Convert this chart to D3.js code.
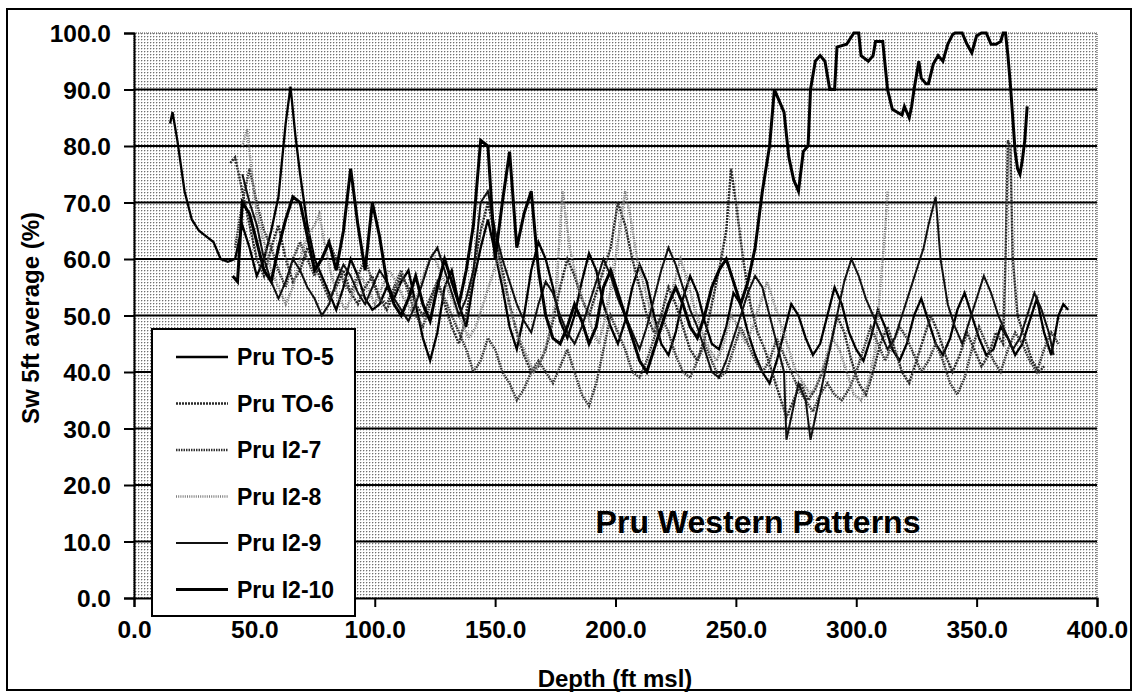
<!DOCTYPE html>
<html><head><meta charset="utf-8">
<script src="https://cdn.jsdelivr.net/npm/d3@7"></script>
<style>html,body{margin:0;padding:0;background:#fff;}svg{display:block;}</style>
</head><body>
<svg id="chart" width="1135" height="696"></svg>
<script>
const xTicks = [0, 50, 100, 150, 200, 250, 300, 350, 400];
const yTicks = [0, 10, 20, 30, 40, 50, 60, 70, 80, 90, 100];
const seriesNames = ["Pru TO-5", "Pru TO-6", "Pru I2-7", "Pru I2-8", "Pru I2-9", "Pru I2-10"];

const to5 = [[15,84],[16,86],[18,81],[21,72],[24,67],[27,65],[30,64],[33,63],[36,60],[39,59.5],[42,60],[45,66],[48,62],[51,57],[54,60],[57,65],[60,71],[63,84],[65,90.5],[67,82],[69,75],[72,66],[75,60],[78,57],[81,54],[84,51],[87,55],[90,60],[93,57],[96,53],[99,51],[102,52],[105,55],[108,53],[111,56],[114,58],[117,52],[120,46],[123,42],[126,47],[129,55],[132,58],[135,52],[138,48],[141,56],[144,62],[147,67],[150,61],[153,55],[156,48],[159,44],[162,50],[165,58],[168,63],[171,60],[174,55],[177,49],[180,46],[183,50],[186,56],[189,61],[192,58],[195,52],[198,48],[201,45],[204,49],[207,55],[210,59],[213,56],[216,50],[219,45],[222,43],[225,47],[228,53],[231,57],[234,54],[237,49],[240,45],[243,44],[246,48],[249,54],[252,52],[255,47],[258,43],[261,40],[264,38],[267,42],[270,47],[273,52],[276,50],[279,46],[282,43],[285,45],[288,50],[291,55],[294,52],[297,47],[300,44],[303,42],[306,46],[309,51],[312,48],[315,44],[318,42],[321,45],[324,50],[327,53],[330,49],[333,45],[336,43],[339,46],[342,51],[345,54],[348,50],[351,46],[354,43],[357,44],[360,48],[363,46],[366,43],[369,45],[372,49],[375,53],[378,47],[381,43],[384,50],[386,52],[388,51]];

const to6 = [[40,77],[42,78],[45,72],[48,66],[51,60],[54,57],[57,62],[60,66],[63,60],[66,56],[69,58],[72,62],[75,59],[78,56],[81,53],[84,55],[87,58],[90,54],[93,52],[96,55],[99,57],[102,53],[105,51],[108,54],[111,57],[114,55],[117,52],[120,50],[123,53],[126,56],[129,52],[132,48],[135,45],[138,50],[141,58],[144,65],[147,70],[150,64],[153,58],[156,52],[159,47],[162,43],[165,40],[168,41],[171,44],[174,49],[177,55],[180,60],[183,57],[186,53],[189,50],[192,54],[195,58],[198,62],[201,70],[204,66],[207,60],[210,55],[213,50],[216,47],[219,50],[222,55],[225,52],[228,48],[231,44],[234,42],[237,46],[240,52],[243,58],[246,65],[248,76],[250,70],[253,60],[256,52],[259,47],[262,44],[265,40],[268,36],[271,32],[274,35],[277,38],[280,35],[283,37],[286,40],[289,44],[292,50],[295,47],[298,42],[301,38],[304,36],[307,40],[310,45],[313,48],[316,44],[319,40],[322,38],[325,42],[328,46],[331,50],[334,47],[337,43],[340,40],[343,43],[346,47],[349,44],[352,41],[355,43],[358,47],[361,45],[362,60],[363,81],[364,80],[365,60],[367,50],[370,46],[373,42],[376,40],[378,41]];

const i27 = [[42,62],[45,70],[48,76],[51,70],[54,65],[57,62],[60,58],[63,55],[66,60],[69,63],[72,60],[75,57],[78,60],[81,63],[84,60],[87,56],[90,54],[93,57],[96,60],[99,56],[102,53],[105,52],[108,55],[111,58],[114,54],[117,50],[120,48],[123,52],[126,56],[129,53],[132,50],[135,47],[138,44],[141,40],[144,42],[147,46],[150,44],[153,40],[156,38],[159,35],[162,37],[165,40],[168,42],[171,40],[174,38],[177,41],[180,44],[183,40],[186,36],[189,34],[192,38],[195,44],[198,50],[201,47],[204,44],[207,40],[210,39],[213,42],[216,46],[219,50],[222,47],[225,43],[228,40],[231,39],[234,42],[237,45],[240,42],[243,39],[246,40],[249,44],[252,48],[255,45],[258,42],[261,40],[264,42],[267,46],[270,43],[273,40],[276,37],[279,35],[282,33],[285,36],[288,38],[291,36],[294,35],[297,37],[300,40],[303,44],[306,48],[309,45],[312,42],[315,45],[318,48],[321,46],[324,43],[327,40],[330,42],[333,45],[336,42],[339,38],[342,36],[345,39],[348,44],[351,48],[354,45],[357,42],[360,40],[363,44],[366,47],[369,45],[372,42],[375,40],[378,44],[381,47],[384,45]];

const i28 = [[45,80],[47,83],[49,75],[51,68],[54,63],[57,58],[60,55],[63,52],[66,55],[69,60],[72,64],[75,66],[77,68],[79,63],[82,57],[85,53],[88,51],[91,54],[94,57],[97,55],[100,52],[103,55],[106,58],[109,56],[112,53],[115,51],[118,54],[121,58],[124,61],[127,58],[130,55],[133,52],[136,49],[139,46],[142,48],[145,52],[148,56],[151,60],[154,55],[157,50],[160,46],[163,43],[166,40],[169,42],[172,46],[175,52],[178,72],[181,62],[184,56],[187,52],[190,48],[193,45],[196,50],[199,57],[202,66],[204,72],[206,68],[209,60],[212,55],[215,50],[218,46],[221,50],[224,55],[227,60],[230,56],[233,51],[236,47],[239,44],[242,42],[245,45],[248,50],[251,48],[254,45],[257,48],[260,52],[263,56],[266,52],[269,48],[272,44],[275,40],[278,38],[281,36],[284,38],[287,42],[290,46],[293,44],[296,40],[299,36],[302,35],[305,38],[308,44],[310,55],[312,65],[313,72]];

const i29 = [[45,75],[48,70],[51,66],[54,60],[57,56],[60,53],[63,56],[66,60],[69,58],[72,55],[75,53],[78,50],[81,52],[84,56],[87,59],[90,57],[93,54],[96,52],[99,55],[102,58],[105,56],[108,53],[111,51],[114,49],[117,52],[120,56],[123,60],[126,62],[129,58],[132,54],[135,50],[138,53],[141,58],[144,70],[147,72],[150,65],[153,60],[156,56],[159,52],[162,49],[165,47],[168,52],[171,56],[174,54],[177,50],[180,47],[183,45],[186,48],[189,52],[192,56],[195,60],[198,57],[201,53],[204,50],[207,47],[210,44],[213,48],[216,53],[219,58],[222,62],[225,59],[228,55],[231,51],[234,48],[237,44],[240,40],[243,39],[246,42],[249,46],[252,50],[255,54],[258,57],[261,55],[264,50],[267,45],[270,40],[271,28],[273,32],[276,38],[279,35],[281,28],[283,32],[286,38],[289,44],[292,50],[295,56],[298,60],[301,57],[304,53],[307,50],[310,47],[313,44],[316,46],[319,50],[322,54],[325,58],[328,62],[330,66],[333,71],[335,60],[338,52],[341,48],[344,45],[347,49],[350,53],[353,57],[356,54],[359,50],[362,47],[365,44],[368,46],[371,50],[374,54],[377,51],[380,47],[382,43]];

const i210 = [[41,57],[43,56],[45,70],[48,68],[51,63],[54,58],[57,56],[60,62],[63,67],[66,71],[69,70],[72,64],[75,58],[78,60],[81,63],[84,58],[87,65],[90,76],[93,66],[96,58],[99,70],[102,64],[105,56],[108,52],[111,50],[114,53],[117,57],[120,52],[123,49],[126,55],[129,60],[132,56],[135,52],[138,58],[141,66],[144,81],[147,80],[150,60],[153,70],[156,79],[159,62],[162,68],[165,72],[168,58],[171,50],[174,46],[177,45],[180,48],[183,52],[186,49],[189,45],[192,48],[195,55],[198,58],[201,54],[204,50],[207,46],[210,42],[213,40],[216,44],[219,48],[222,52],[225,55],[228,52],[231,48],[234,46],[237,50],[240,55],[243,58],[246,60],[249,56],[252,52],[255,56],[258,62],[261,72],[264,80],[266,90],[268,88],[270,86],[272,78],[274,74],[276,72],[278,79],[280,80],[281,90],[283,95],[285,96],[287,95],[289,90],[291,90],[292,97.5],[296,98],[299,100],[301,100],[302,96],[305,95],[307,96],[308,98.5],[311,98.5],[313,90],[315,86.5],[319,85.5],[320,87],[322,85],[323,87],[324,90],[326,95],[327,92],[329,91],[330,91],[332,94.5],[334,96],[336,95],[338,98],[340,99.7],[341,100],[344,100],[346,98],[348,96.5],[350,99.5],[352,100],[354,100],[356,98],[358,98],[360,98.5],[361,100],[362,100],[363,96],[364,91],[365,85],[366,79],[367,76],[368,75],[369,77.5],[370,81],[371,87]];

const seriesData = [to5, to6, i27, i28, i29, i210];
const seriesStroke = ["#000", "#2a2a2a", "#333", "#7d7d7d", "#111", "#000"];
const seriesWidth = [2.3, 2.4, 2.4, 2.4, 2, 3];
const seriesDash = [null, "2,1", "1.5,1", "1,1.2", null, null];

const svg = d3.select("#chart");
const plot = {left: 134, top: 33, right: 1097, bottom: 598};
const FONT = "'Liberation Sans', Arial, sans-serif";

svg.append("rect").attr("x", 7).attr("y", 9).attr("width", 1124).attr("height", 681)
  .attr("fill", "#fff").attr("stroke", "#000").attr("stroke-width", 2);

const defs = svg.append("defs");
const pat = defs.append("pattern").attr("id", "dots").attr("patternUnits", "userSpaceOnUse")
  .attr("width", 3).attr("height", 3);
pat.append("rect").attr("width", 3).attr("height", 3).attr("fill", "#fff");
pat.append("rect").attr("x", 0).attr("y", 0).attr("width", 1).attr("height", 1).attr("fill", "#707070");
pat.append("rect").attr("x", 0).attr("y", 1).attr("width", 1).attr("height", 1).attr("fill", "#cfcfcf");
pat.append("rect").attr("x", 1).attr("y", 0).attr("width", 1).attr("height", 1).attr("fill", "#cfcfcf");
defs.append("clipPath").attr("id", "clip").append("rect")
  .attr("x", 134).attr("y", 31).attr("width", 963).attr("height", 567);

const x = d3.scaleLinear().domain([0, 400]).range([plot.left, plot.right]);
const y = d3.scaleLinear().domain([0, 100]).range([plot.bottom, plot.top]);

svg.append("rect").attr("x", plot.left).attr("y", plot.top)
  .attr("width", plot.right - plot.left).attr("height", plot.bottom - plot.top)
  .attr("fill", "url(#dots)").attr("stroke", "#555").attr("stroke-width", 1.2).attr("stroke-dasharray", "1,1");

svg.append("g").selectAll("line").data(yTicks.filter(d => d > 0 && d < 100)).join("line")
  .attr("x1", plot.left).attr("x2", plot.right)
  .attr("y1", d => y(d)).attr("y2", d => y(d))
  .attr("stroke", "#000").attr("stroke-width", 2);

const line = d3.line().x(d => x(d[0])).y(d => y(d[1]));
const gl = svg.append("g").attr("clip-path", "url(#clip)");
seriesData.forEach((s, i) => {
  gl.append("path").datum(s).attr("d", line).attr("fill", "none")
    .attr("stroke", seriesStroke[i]).attr("stroke-width", seriesWidth[i])
    .attr("stroke-dasharray", seriesDash[i]).attr("stroke-linejoin", "miter");
});

const fmt = d3.format(".1f");
const yAxis = d3.axisLeft(y).tickValues(yTicks).tickFormat(fmt).tickSize(10).tickPadding(13);
const xAxis = d3.axisBottom(x).tickValues(xTicks).tickFormat(fmt).tickSize(9).tickPadding(14);
const gy = svg.append("g").attr("transform", `translate(${plot.left},0)`).call(yAxis);
const gx = svg.append("g").attr("transform", `translate(0,${plot.bottom})`).call(xAxis);
[gx, gy].forEach(g => {
  g.select(".domain").attr("stroke", "#000").attr("stroke-width", 2);
  g.selectAll(".tick line").attr("stroke", "#000").attr("stroke-width", 2);
  g.selectAll(".tick text").attr("fill", "#000")
    .style("font-family", FONT).style("font-weight", "bold").style("font-size", "24.5px");
});
gy.selectAll(".tick text").attr("dy", "0.36em");

svg.append("text").attr("transform", `translate(30,318) rotate(-90)`)
  .attr("text-anchor", "middle").attr("dominant-baseline", "central")
  .style("font-family", FONT).style("font-weight", "bold").style("font-size", "24px")
  .text("Sw 5ft average (%)");
svg.append("text").attr("x", 615).attr("y", 678)
  .attr("text-anchor", "middle").attr("dominant-baseline", "central")
  .style("font-family", FONT).style("font-weight", "bold").style("font-size", "24px")
  .text("Depth (ft msl)");

svg.append("text").attr("x", 758).attr("y", 522)
  .attr("text-anchor", "middle").attr("dominant-baseline", "central")
  .style("font-family", FONT).style("font-weight", "bold").style("font-size", "32px")
  .text("Pru Western Patterns");

const lg = svg.append("g");
lg.append("rect").attr("x", 152).attr("y", 329).attr("width", 203).attr("height", 287)
  .attr("fill", "#fff").attr("stroke", "#000").attr("stroke-width", 2);
seriesNames.forEach((n, i) => {
  const ly = 357 + i * 46.5;
  lg.append("line").attr("x1", 176).attr("x2", 228).attr("y1", ly).attr("y2", ly)
    .attr("stroke", seriesStroke[i]).attr("stroke-width", seriesWidth[i])
    .attr("stroke-dasharray", seriesDash[i]);
  lg.append("text").attr("x", 237).attr("y", ly).attr("dominant-baseline", "central")
    .style("font-family", FONT).style("font-weight", "bold").style("font-size", "23px")
    .text(n);
});
</script>
</body></html>
